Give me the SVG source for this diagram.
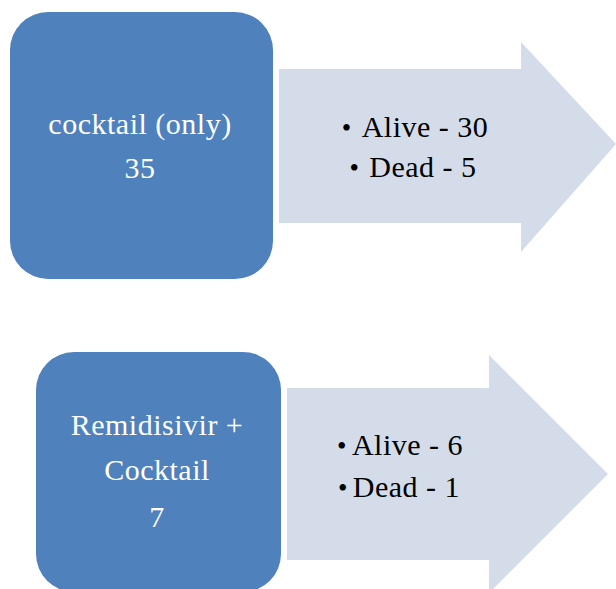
<svg xmlns="http://www.w3.org/2000/svg" width="616" height="589" viewBox="0 0 616 589">
<style>
.box{fill:#4F81BD}
.arrow{fill:#D4DCE9}
.wt{font-family:"Liberation Serif","Times New Roman",serif;font-size:30px;letter-spacing:0.5px;fill:#FFFFFF;text-anchor:middle}
.bt{font-family:"Liberation Serif","Times New Roman",serif;font-size:30px;letter-spacing:0.5px;fill:#000000;text-anchor:middle}
.bl{font-size:27px}
</style>
<rect width="616" height="589" fill="#FFFFFF"/>
<g id="connectors">
<g id="arrow1">
<polygon class="arrow" points="279,69 521,69 521,42 616,144 521,252 521,223 279,223"/>
<text class="bt" x="415" y="137"><tspan class="bl">•</tspan><tspan dx="10">Alive - 30</tspan></text>
<text class="bt" x="413" y="177"><tspan class="bl">•</tspan><tspan dx="10">Dead - 5</tspan></text>
</g>
<g id="arrow2">
<polygon class="arrow" points="287,388 489,388 489,355 608,474 489,593 489,560 287,560"/>
<text class="bt" x="400" y="455"><tspan class="bl">•</tspan><tspan dx="5">Alive - 6</tspan></text>
<text class="bt" x="399" y="497"><tspan class="bl">•</tspan><tspan dx="5">Dead - 1</tspan></text>
</g>
</g>
<g id="node1">
<rect class="box" x="10" y="12" width="263" height="267" rx="38" ry="38"/>
<text class="wt" x="140" y="134">cocktail (only)</text>
<text class="wt" x="140" y="178">35</text>
</g>
<g id="node2">
<rect class="box" x="36" y="352" width="245" height="240" rx="38" ry="38"/>
<text class="wt" x="157" y="435">Remidisivir +</text>
<text class="wt" x="157" y="480">Cocktail</text>
<text class="wt" x="157" y="527">7</text>
</g>
</svg>
